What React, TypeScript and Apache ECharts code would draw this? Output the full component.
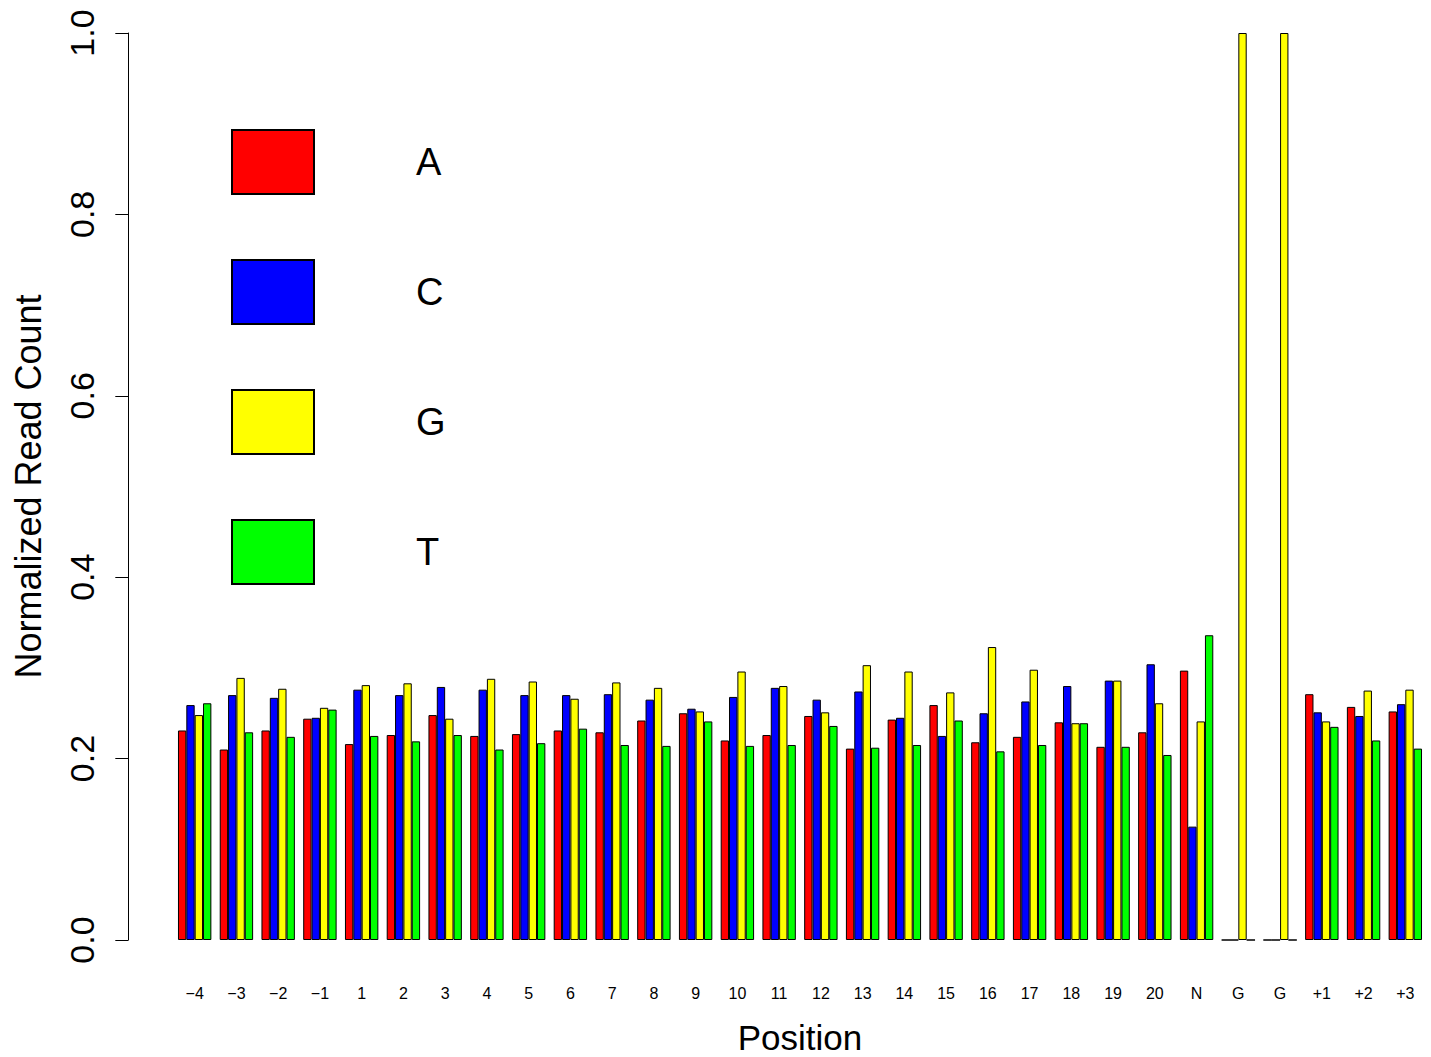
import React, { useEffect, useRef } from "react";
import * as echarts from "echarts";

const positions = ["\u22124", "\u22123", "\u22122", "\u22121", "1", "2", "3", "4", "5", "6", "7", "8", "9", "10", "11", "12", "13", "14", "15", "16", "17", "18", "19", "20", "N", "G", "G", "+1", "+2", "+3"];

const valuesA = [0.231, 0.210, 0.231, 0.244, 0.216, 0.226, 0.248, 0.225, 0.227, 0.231, 0.229, 0.242, 0.250, 0.220, 0.226, 0.247, 0.211, 0.243, 0.259, 0.218, 0.224, 0.240, 0.213, 0.229, 0.297, 0, 0, 0.271, 0.257, 0.252];
const valuesC = [0.259, 0.270, 0.267, 0.245, 0.276, 0.270, 0.279, 0.276, 0.270, 0.270, 0.271, 0.265, 0.255, 0.268, 0.278, 0.265, 0.274, 0.245, 0.225, 0.250, 0.263, 0.280, 0.286, 0.304, 0.125, 0, 0, 0.251, 0.247, 0.260];
const valuesG = [0.248, 0.289, 0.277, 0.256, 0.281, 0.283, 0.244, 0.288, 0.285, 0.266, 0.284, 0.278, 0.252, 0.296, 0.280, 0.251, 0.303, 0.296, 0.273, 0.323, 0.298, 0.239, 0.286, 0.261, 0.241, 1.0, 1.0, 0.241, 0.275, 0.276];
const valuesT = [0.261, 0.229, 0.224, 0.254, 0.225, 0.219, 0.226, 0.210, 0.217, 0.233, 0.215, 0.214, 0.241, 0.214, 0.215, 0.236, 0.212, 0.215, 0.242, 0.208, 0.215, 0.239, 0.213, 0.204, 0.336, 0, 0, 0.235, 0.220, 0.211];

const bases = ["A", "C", "G", "T"];
const baseColors = ["#FF0000", "#0000FF", "#FFFF00", "#00FF00"];
const baseValues = [valuesA, valuesC, valuesG, valuesT];

const FONT = "'Liberation Sans', Arial, Helvetica, sans-serif";

export default function App() {
  const ref = useRef<HTMLDivElement>(null);
  useEffect(() => {
    if (!ref.current) return;
    const chart = echarts.init(ref.current, null, { renderer: "svg" });
    chart.setOption({
      animation: false,
      backgroundColor: "#ffffff",
      textStyle: { fontFamily: FONT },
      grid: {
        left: 173.8,
        width: 1252.4,
        top: 33,
        height: 907,
        containLabel: false,
        outerBoundsMode: "none",
      },
      legend: {
        orient: "vertical",
        left: 226,
        top: 124,
        itemWidth: 82,
        itemHeight: 64,
        itemGap: 64,
        icon: "rect",
        selectedMode: false,
        data: bases,
        textStyle: { fontSize: 38, color: "#000", fontFamily: FONT, padding: [0, 0, 0, 97] },
      },
      xAxis: {
        type: "category",
        data: positions,
        name: "Position",
        nameLocation: "middle",
        nameGap: 80,
        nameTextStyle: { fontSize: 35, color: "#000", fontFamily: FONT },
        axisLine: { show: false },
        axisTick: { show: false },
        axisLabel: { interval: 0, margin: 45, fontSize: 16, color: "#000", fontFamily: FONT },
        splitLine: { show: false },
      },
      yAxis: {
        type: "value",
        min: 0,
        max: 1,
        interval: 0.2,
        offset: 45.5,
        name: "Normalized Read Count",
        nameLocation: "middle",
        nameGap: 82,
        nameTextStyle: { fontSize: 36, color: "#000", fontFamily: FONT },
        axisLine: { show: true, lineStyle: { color: "#000", width: 1 } },
        axisTick: { show: true, length: 13, lineStyle: { color: "#000", width: 1 } },
        axisLabel: {
          rotate: 90,
          margin: 29,
          fontSize: 34,
          color: "#000",
          fontFamily: FONT,
          formatter: (v: number) => v.toFixed(1),
        },
        splitLine: { show: false },
      },
      series: bases.map((b, i) => ({
        name: b,
        type: "bar",
        data: baseValues[i],
        barGap: "0%",
        barCategoryGap: "20%",
        itemStyle: { color: baseColors[i], borderColor: "#000", borderWidth: 1 },
      })),
    });
    return () => chart.dispose();
  }, []);
  return <div ref={ref} style={{ position: "fixed", left: 0, top: 0, width: 1431, height: 1057 }} />;
}
